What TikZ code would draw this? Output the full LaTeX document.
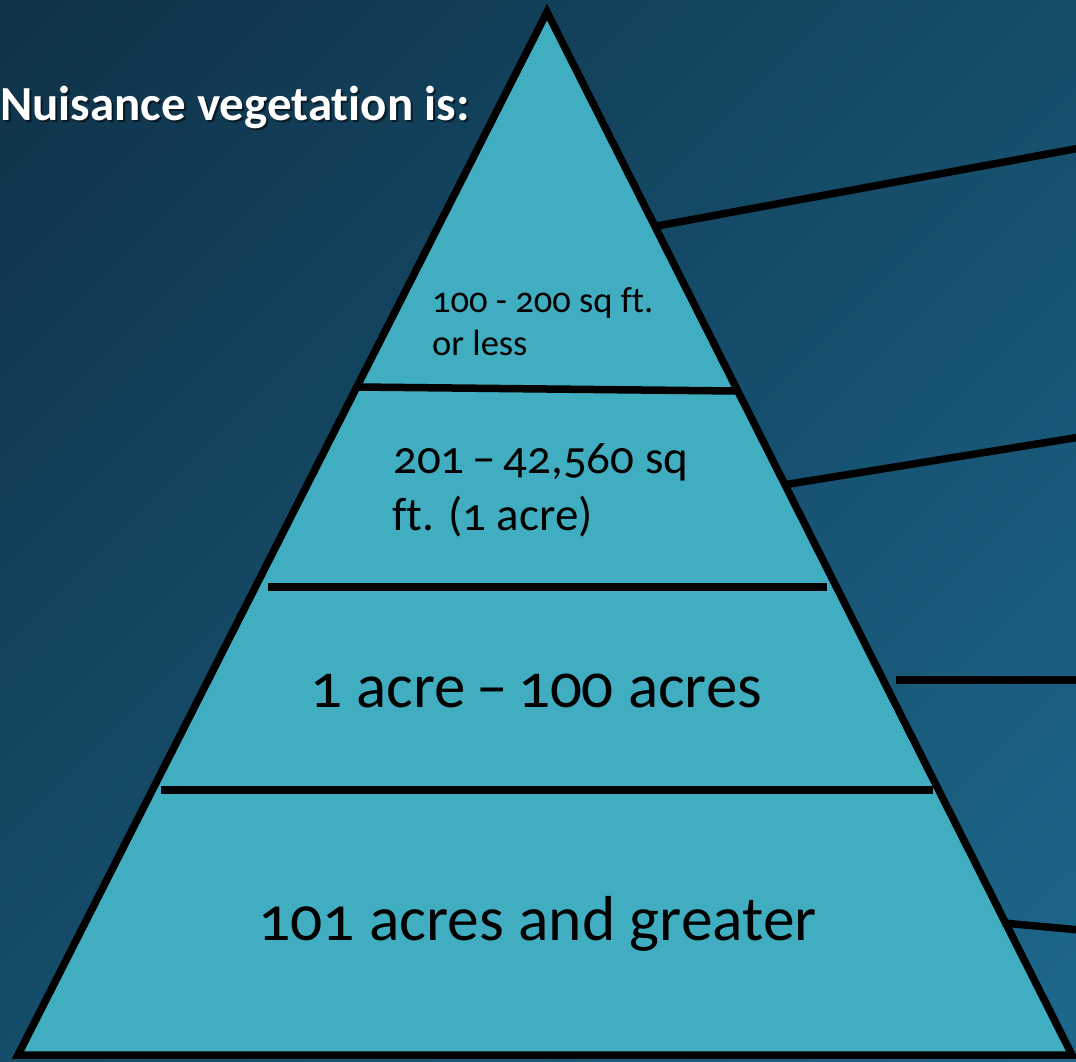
\documentclass[tikz,border=0pt]{standalone}
\usepackage{fontspec}
\setmainfont{Carlito}[Numbers=OldStyle,Ligatures=NoCommon]
\definecolor{bgA}{HTML}{0E2F45}
\definecolor{bgB}{HTML}{1D6B8F}
\definecolor{pyr}{HTML}{40AEC0}
\tikzset{
  edge/.style={line width=7.5pt, draw=black, line cap=butt},
  lbl/.style={anchor=base west, inner sep=0pt, text=black},
}
\begin{document}
\begin{tikzpicture}[x=1pt,y=-1pt]
\useasboundingbox (0,0) rectangle (1076,1061);
\shade[top color=bgA, bottom color=bgB, shading angle=45] (-300,-300) rectangle (1376,1361);
\clip (0,0) rectangle (1076,1061);
% pyramid
\coordinate (apex) at (547,12);
\coordinate (bl) at (18,1055);
\coordinate (br) at (1072,1055);
\fill[pyr] (apex) -- (br) -- (bl) -- cycle;
% dividers
\coordinate (d1a) at (358,387); \coordinate (d1b) at (737,391);
\coordinate (d2a) at (268,587); \coordinate (d2b) at (827,587);
\coordinate (d3a) at (161,790); \coordinate (d3b) at (933,790);
\draw[edge] (d1a) -- (d1b);
\draw[edge] (d2a) -- (d2b);
\draw[edge] (d3a) -- (d3b);
% connectors
\coordinate (c1a) at (657,226); \coordinate (c1b) at (1080,148);
\coordinate (c2a) at (783,485); \coordinate (c2b) at (1080,437);
\coordinate (c3a) at (896,680); \coordinate (c3b) at (1080,680);
\coordinate (c4a) at (1003,923); \coordinate (c4b) at (1080,930);
\draw[edge] (c1a) -- (c1b);
\draw[edge] (c2a) -- (c2b);
\draw[edge] (c3a) -- (c3b);
\draw[edge] (c4a) -- (c4b);
\draw[edge, line join=miter] (apex) -- (br) -- (bl) -- cycle;
% labels
\node[lbl, font=\fontsize{36.5}{36.5}\selectfont] (t1a) at (432,312) {100 - 200 sq ft.};
\node[lbl, font=\fontsize{36.5}{36.5}\selectfont] (t1b) at (432,355) {or less};
\node[lbl, font=\fontsize{47}{47}\selectfont] (t2a) at (393,473) {201\,–\,42,560 sq};
\node[lbl, font=\fontsize{47}{47}\selectfont] (t2b) at (392,530) {ft. (1 acre)};
\node[lbl, font=\fontsize{63}{63}\selectfont] (t3) at (310,707) {1 acre\,–\,100 acres};
\node[lbl, font=\fontsize{63.5}{63.5}\selectfont] (t4) at (258,940) {101 acres and greater};
% title
\node[lbl, text=black, opacity=0.55, font=\bfseries\fontsize{49}{49}\selectfont] (titleshadow) at (2,122) {Nuisance vegetation is:};
\node[lbl, text=white, font=\bfseries\fontsize{49}{49}\selectfont] (title) at (0,120) {Nuisance vegetation is:};
\end{tikzpicture}
\end{document}
